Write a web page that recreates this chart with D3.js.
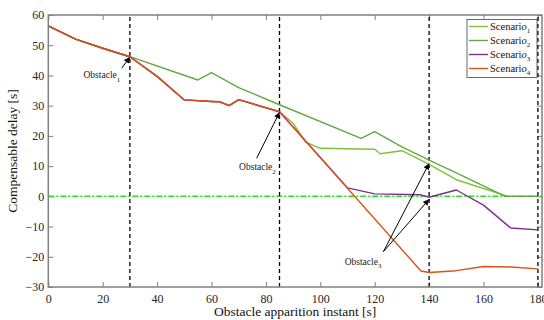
<!DOCTYPE html>
<html>
<head>
<meta charset="utf-8">
<script src="https://cdn.jsdelivr.net/npm/d3@7"></script>
<style>
  body { margin: 0; background: #fff; }
  svg { display: block; }
  svg text { font-family: "Liberation Serif", "Times New Roman", "DejaVu Serif", serif !important; }
</style>
</head>
<body>
<div id="chart"></div>
<script>
(function(){
// ---- data ----
const xTicks = [0, 20, 40, 60, 80, 100, 120, 140, 160, 180];
const yTicks = [-30, -20, -10, 0, 10, 20, 30, 40, 50, 60];
const obstacleTimes = [30, 85, 140, 180];
const scenarioNames = ["1", "2", "3", "4"];

const s1T = [0, 10, 20, 30, 40, 50, 60, 63, 66.5, 70, 85, 90, 94.5, 100, 120, 122, 130, 140, 150, 169, 180];
const s1V = [56.4, 52, 49, 46.2, 39.7, 31.9, 31.4, 31.3, 30, 32, 28, 24.2, 18, 15.9, 15.6, 14.1, 15.1, 10.6, 5.5, 0, 0];

const s2T = [0, 10, 20, 30, 55, 60, 70, 85, 115, 120, 130, 140, 150, 168, 180];
const s2V = [56.4, 52, 49, 46.2, 38.5, 40.9, 36, 30.3, 19.2, 21.4, 16.4, 12, 7.8, 0, 0];

const s3T = [0, 10, 20, 30, 40, 50, 60, 63, 66.5, 70, 85, 110, 120, 137, 140, 150, 160, 170, 180];
const s3V = [56.4, 52, 49, 46.2, 39.7, 31.9, 31.4, 31.3, 30, 32, 28, 2.8, 0.8, 0.5, -0.3, 2.1, -2.9, -10.5, -11.1];

const s4T = [0, 10, 20, 30, 40, 50, 60, 63, 66.5, 70, 85, 137, 140, 150, 160, 170, 180];
const s4V = [56.4, 52, 49, 46.2, 39.7, 31.9, 31.4, 31.3, 30, 32, 28, -24.7, -25.2, -24.6, -23.2, -23.4, -24];

const colors = ["#86bd3b", "#62a844", "#7e2f8e", "#d95319"];

// ---- layout ----
const W = 544, H = 320;
const margin = { top: 15, right: 2, bottom: 33, left: 48.3 };
const serif = "'Liberation Serif', 'Times New Roman', 'DejaVu Serif', serif";

const svg = d3.select("#chart").append("svg")
    .attr("width", W)
    .attr("height", H)
    .attr("font-family", serif);

const x = d3.scaleLinear().domain([0, 181.5]).range([margin.left, W - margin.right]);
const y = d3.scaleLinear().domain([-30, 60]).range([H - margin.bottom, margin.top]);

const axisColor = "#808080";

// ticks (MATLAB style, inward)
function styleAxis(g) {
    g.attr("font-family", serif);
    g.select(".domain").remove();
    g.selectAll(".tick line").attr("stroke", axisColor).attr("stroke-width", 1);
    g.selectAll(".tick text").attr("fill", "#262626").attr("font-size", 12);
}

svg.append("g")
    .attr("transform", "translate(0," + y(-30) + ")")
    .call(d3.axisBottom(x).tickValues(xTicks).tickSize(-5).tickPadding(7))
    .call(styleAxis);
svg.append("g")
    .attr("transform", "translate(0," + y(60) + ")")
    .call(d3.axisTop(x).tickValues(xTicks).tickSize(-5).tickFormat(""))
    .call(styleAxis);
svg.append("g")
    .attr("transform", "translate(" + x(0) + ",0)")
    .call(d3.axisLeft(y).tickValues(yTicks).tickSize(-5).tickPadding(4))
    .call(styleAxis);
svg.append("g")
    .attr("transform", "translate(" + x(181.5) + ",0)")
    .call(d3.axisRight(y).tickValues(yTicks).tickSize(-5).tickFormat(""))
    .call(styleAxis);

// zero reference line
svg.append("line")
    .attr("x1", x(0)).attr("x2", x(181.5))
    .attr("y1", y(0)).attr("y2", y(0))
    .attr("stroke", "#22e622")
    .attr("stroke-width", 1.5)
    .attr("stroke-dasharray", "6,2,2,2");

// obstacle instants
svg.selectAll("line.obs")
    .data(obstacleTimes)
    .enter().append("line")
    .attr("class", "obs")
    .attr("x1", d => x(d)).attr("x2", d => x(d))
    .attr("y1", y(-30)).attr("y2", y(60))
    .attr("stroke", "#000")
    .attr("stroke-width", 1.3)
    .attr("stroke-dasharray", "4,3");

// series
const series = [
    { t: s1T, v: s1V },
    { t: s2T, v: s2V },
    { t: s3T, v: s3V },
    { t: s4T, v: s4V }
];
const line = d3.line().x(d => x(d[0])).y(d => y(d[1]));

series.forEach(function(s, i) {
    const pts = s.t.map((t, k) => [t, s.v[k]]);
    svg.append("path")
        .datum(pts)
        .attr("fill", "none")
        .attr("stroke", colors[i])
        .attr("stroke-width", 1.4)
        .attr("stroke-linejoin", "round")
        .attr("d", line);
});

// frame
svg.append("rect")
    .attr("x", x(0)).attr("y", y(60))
    .attr("width", x(181.5) - x(0))
    .attr("height", y(-30) - y(60))
    .attr("fill", "none")
    .attr("stroke", axisColor)
    .attr("stroke-width", 1.5);

// arrows
svg.append("defs").append("marker")
    .attr("id", "head")
    .attr("viewBox", "0 0 10 10")
    .attr("refX", 10).attr("refY", 5)
    .attr("markerWidth", 7).attr("markerHeight", 6)
    .attr("markerUnits", "userSpaceOnUse")
    .attr("orient", "auto")
    .append("path")
    .attr("d", "M0,0 L10,5 L0,10 z")
    .attr("fill", "#000");

const arrows = [
    { from: [27, 42.4], to: [30, 46.1] },
    { from: [76.6, 12.6], to: [85, 27.8] },
    { from: [123.2, -18.3], to: [140, 10.9] },
    { from: [123.2, -18.3], to: [140, -1] }
];
svg.selectAll("line.arrow")
    .data(arrows)
    .enter().append("line")
    .attr("class", "arrow")
    .attr("x1", d => x(d.from[0])).attr("y1", d => y(d.from[1]))
    .attr("x2", d => x(d.to[0])).attr("y2", d => y(d.to[1]))
    .attr("stroke", "#000")
    .attr("stroke-width", 1)
    .attr("marker-end", "url(#head)");

const labels = [
    { n: "1", at: [19.7, 40.1] },
    { n: "2", at: [76.9, 9.7] },
    { n: "3", at: [115.7, -21.6] }
];
labels.forEach(function(l) {
    const t = svg.append("text")
        .attr("x", x(l.at[0]))
        .attr("y", y(l.at[1]) + 3)
        .attr("text-anchor", "middle")
        .attr("font-size", 9.5)
        .attr("fill", "#222");
    t.append("tspan").text("Obstacle");
    t.append("tspan").attr("dy", 3.5).attr("font-size", 7).text(l.n);
});

// legend
const lg = svg.append("g").attr("transform", "translate(467,19.5)");
lg.append("rect")
    .attr("width", 70).attr("height", 58)
    .attr("fill", "#fff")
    .attr("stroke", "#444")
    .attr("stroke-width", 0.8);
scenarioNames.forEach(function(n, i) {
    const yy = 7 + i * 14;
    lg.append("line")
        .attr("x1", 2).attr("x2", 21)
        .attr("y1", yy).attr("y2", yy)
        .attr("stroke", colors[i])
        .attr("stroke-width", 1.4);
    const t = lg.append("text")
        .attr("x", 23).attr("y", yy + 3.5)
        .attr("font-size", 10.5)
        .attr("fill", "#111");
    t.append("tspan").text("Scenari");
    t.append("tspan").attr("font-style", "italic").text("o");
    t.append("tspan").attr("dy", 2.5).attr("font-size", 7).text(n);
});

// axis titles
svg.append("text")
    .attr("transform", "translate(17," + ((y(60) + y(-30)) / 2) + ") rotate(-90)")
    .attr("text-anchor", "middle")
    .attr("font-size", 13.5)
    .attr("fill", "#111")
    .text("Compensable delay [s]");
svg.append("text")
    .attr("x", (x(0) + x(181.5)) / 2)
    .attr("y", 316)
    .attr("text-anchor", "middle")
    .attr("font-size", 13.5)
    .attr("fill", "#111")
    .text("Obstacle apparition instant [s]");
})();
</script>
</body>
</html>
